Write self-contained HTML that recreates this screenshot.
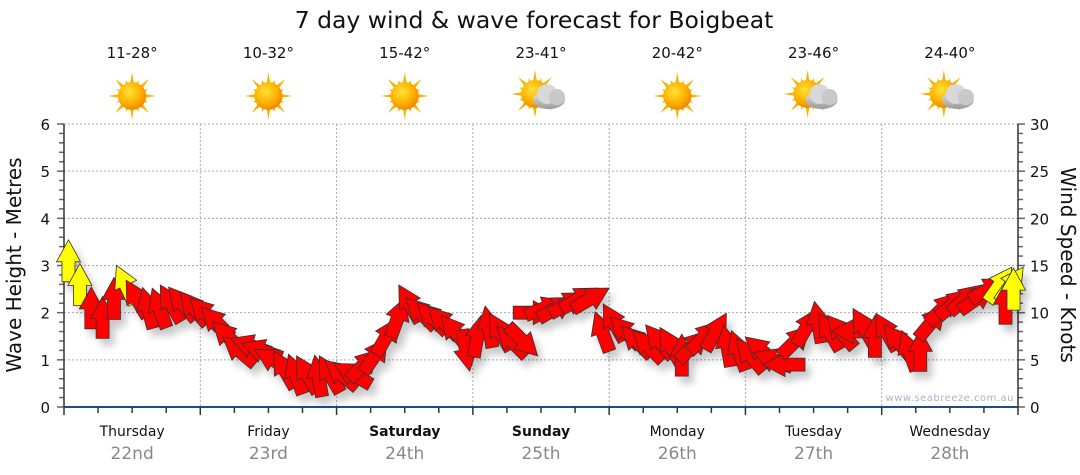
<!DOCTYPE html>
<html><head><meta charset="utf-8"><style>
body{margin:0;background:#fff;font-family:"DejaVu Sans","Liberation Sans",sans-serif}
svg{display:block}
</style></head><body>
<svg id="chart" width="1080" height="475" viewBox="0 0 1080 475" xmlns="http://www.w3.org/2000/svg" font-family="DejaVu Sans, Liberation Sans, sans-serif">
<defs>
<filter id="sh" x="-50%" y="-50%" width="200%" height="200%"><feGaussianBlur in="SourceAlpha" stdDeviation="4"/><feOffset dx="5" dy="7"/><feComponentTransfer><feFuncA type="linear" slope="0.22"/></feComponentTransfer><feMerge><feMergeNode/><feMergeNode in="SourceGraphic"/></feMerge></filter>
<radialGradient id="sunG" cx="40%" cy="35%" r="65%"><stop offset="0" stop-color="#ffe23a"/><stop offset="0.6" stop-color="#ffb300"/><stop offset="1" stop-color="#f08a00"/></radialGradient>
<linearGradient id="cloudG" x1="0" y1="0" x2="0" y2="1"><stop offset="0" stop-color="#e8e8e8"/><stop offset="1" stop-color="#9a9a9a"/></linearGradient>
</defs>
<text x="534" y="28" text-anchor="middle" font-size="23.5" fill="#111">7 day wind &amp; wave forecast for Boigbeat</text>
<g id="grid"></g>
<g id="axes"></g>
<g id="icons"></g>
<g id="arrows" filter="url(#sh)"></g>
<text x="1014" y="401" text-anchor="end" font-size="10" fill="#a8b4c4" letter-spacing="0.5">www.seabreeze.com.au</text>
<text transform="translate(21,265) rotate(-90)" text-anchor="middle" font-size="20" fill="#111">Wave Height - Metres</text>
<text transform="translate(1061,265) rotate(90)" text-anchor="middle" font-size="20" fill="#111">Wind Speed - Knots</text>
</svg>
<script>
const days = ["Thursday","Friday","Saturday","Sunday","Monday","Tuesday","Wednesday"];
const dates = ["22nd","23rd","24th","25th","26th","27th","28th"];
const boldDays = [false,false,true,true,false,false,false];
const temps = ["11-28°","10-32°","15-42°","23-41°","20-42°","23-46°","24-40°"];
const cloudy = [false,false,false,true,false,true,true];
const leftTicks = [0,1,2,3,4,5,6];
const rightTicks = [0,5,10,15,20,25,30];
// arrow time (hours from start), wind knots, direction (deg clockwise from up), colour
const hours = [0.4,1.4,2.4,3.4,4.4,5.4,6.4,7.4,8.4,9.4,10.4,11.4,12.4,13.4,14.4,15.4,16.4,17.4,18.4,19.4,20.4,21.4,22.4,23.4,24.4,25.4,26.4,27.4,28.4,29.4,30.4,31.4,32.4,33.4,34.4,35.4,36.4,37.4,38.4,39.4,40.4,41.4,42.4,43.4,44.4,45.4,46.4,47.4,48.4,49.4,50.4,51.4,52.4,53.4,54.4,55.4,56.4,57.4,58.4,59.4,60.4,61.4,62.4,63.4,64.4,65.4,66.4,67.4,68.4,69.4,70.4,71.4,72.4,73.4,74.4,75.4,76.4,77.4,78.4,79.4,80.4,81.4,82.4,83.4,82.9,83.6].map(h=>h*2);
const speeds = [15.5,13,10.5,9.5,11.5,13,11.5,10.5,10.5,11,11,10.5,10,9,7.5,6,6.5,6,5,4,3.5,3.5,3.3,3.5,3.5,3.5,4.5,5.5,7.5,9.5,11,10,9.5,9,8,6,7.5,8.5,8,7,7,10,10.5,10.5,11,11.5,11.5,8,9,8,7,6.5,7,6.5,5.5,6.5,7.5,8,6.5,6,5.5,6,5,4.5,7,8.5,9,8,8,8,8.5,7.5,8,7,6,6,9,10.5,11,11.5,11.5,12.5,13,13,11,12.5];
const dirs = [0,0,0,0,0,-25,-30,-15,-20,-30,-40,-40,-45,-45,-45,-50,-70,-70,-60,-30,-20,-30,-10,-30,-50,-60,45,35,30,20,-30,-45,-45,-45,-40,170,10,-10,-30,-45,135,90,70,60,60,60,60,-20,-30,-45,-45,-45,-40,-30,0,45,45,30,-10,-20,-40,-50,-70,-90,45,30,-10,-30,-40,-90,-30,0,-30,-40,-20,0,40,45,50,50,55,60,35,35,0,0];
const colours = ["y","y","r","r","r","y","r","r","r","r","r","r","r","r","r","r","r","r","r","r","r","r","r","r","r","r","r","r","r","r","r","r","r","r","r","r","r","r","r","r","r","r","r","r","r","r","r","r","r","r","r","r","r","r","r","r","r","r","r","r","r","r","r","r","r","r","r","r","r","r","r","r","r","r","r","r","r","r","r","r","r","r","y","y","r","y"];

const NS="http://www.w3.org/2000/svg";
const X0=64,X1=1018,Y0=407,Y1=124;
const dayW=(X1-X0)/7;
const xH=h=>X0+h/(7*24)*(X1-X0);
const yM=m=>Y0-m/6*(Y0-Y1);
const yK=k=>Y0-k/30*(Y0-Y1);
function mk(tag,attrs,parent){const e=document.createElementNS(NS,tag);for(const k in attrs)e.setAttribute(k,attrs[k]);parent.appendChild(e);return e;}
const grid=document.getElementById('grid'),axes=document.getElementById('axes'),icons=document.getElementById('icons'),arrows=document.getElementById('arrows');

leftTicks.forEach(v=>{
  if(v>0){const l=mk('line',{x1:X0,x2:X1,y1:yM(v),y2:yM(v),stroke:'#aaa','stroke-dasharray':'2,2'},grid);
  
  }
  const t=mk('text',{x:50,y:yM(v)+6,'text-anchor':'end','font-size':15,fill:'#111'},axes);t.textContent=v;
  
  
});
for(let i=0;i<=30;i++){const m=i*0.2;mk('line',{x1:X0-(i%5?5:7),x2:X0,y1:yM(m),y2:yM(m),stroke:'#666','stroke-width':1.5},axes);}
rightTicks.forEach(v=>{
  const t=mk('text',{x:1030,y:yK(v)+6,'font-size':15,fill:'#111'},axes);t.textContent=v;
  
  
});
for(let k=0;k<=30;k++){mk('line',{x1:X1,x2:X1+(k%5?5:7),y1:yK(k),y2:yK(k),stroke:'#666','stroke-width':1.5},axes);}
for(let d=1;d<7;d++){const l=mk('line',{x1:X0+d*dayW,x2:X0+d*dayW,y1:Y1,y2:Y0,stroke:'#aaa','stroke-dasharray':'2,2'},grid);
  
  }
mk('line',{x1:X0,x2:X0,y1:Y1,y2:Y0,stroke:'#333','stroke-width':1.5},axes);
mk('line',{x1:X1,x2:X1,y1:Y1,y2:Y0,stroke:'#333','stroke-width':1.5},axes);
mk('line',{x1:X0,x2:X1,y1:Y0,y2:Y0,stroke:'#1a4f86','stroke-width':2},axes);
for(let q=0;q<=28;q++){const x=X0+q*dayW/4;mk('line',{x1:x,x2:x,y1:Y0,y2:Y0+(q%4?6:8),stroke:'#333','stroke-width':1.5},axes);}

function sun(g,cx,cy){
  for(let i=0;i<16;i++){const a=i*Math.PI/8,L=i%2?17:24;
    const p=[[cx+Math.cos(a)*L,cy+Math.sin(a)*L],[cx+Math.cos(a+0.2)*11,cy+Math.sin(a+0.2)*11],[cx+Math.cos(a-0.2)*11,cy+Math.sin(a-0.2)*11]];
    mk('polygon',{points:p.map(q=>q.join(',')).join(' '),fill:'#f4b400'},g);}
  mk('circle',{cx,cy,r:14,fill:'url(#sunG)'},g);
}
days.forEach((d,i)=>{
  const cx=X0+(i+0.5)*dayW;
  const t=mk('text',{x:cx,y:58,'text-anchor':'middle','font-size':15,fill:'#111'},icons);t.textContent=temps[i];
  
  
  const g=mk('g',{},icons);
  
  
  if(cloudy[i]){sun(g,cx-6,94);
    mk('ellipse',{cx:cx+8,cy:100,rx:16,ry:9,fill:'url(#cloudG)'},g);
    mk('circle',{cx:cx+6,cy:94,r:10,fill:'#d8d8d8'},g);
    mk('circle',{cx:cx+16,cy:97,r:8,fill:'#c8c8c8'},g);
  } else sun(g,cx,96);
  const dl=mk('text',{x:cx,y:436,'text-anchor':'middle','font-size':14,fill:'#111','font-weight':boldDays[i]?'bold':'normal'},axes);dl.textContent=d;
  
  
  const dt=mk('text',{x:cx,y:459,'text-anchor':'middle','font-size':17,fill:'#888'},axes);dt.textContent=dates[i];
  
  
});

hours.forEach((h,i)=>{
  const cx=xH(h),cy=yK(speeds[i]);
  const p=mk('polygon',{points:'-6.5,21 6.5,21 6.5,1 12,1 0,-21 -12,1 -6.5,1',
    transform:`translate(${cx.toFixed(1)},${cy.toFixed(1)}) rotate(${dirs[i]})`,
    fill:colours[i]==='y'?'#ffff00':'#ff0000',stroke:'#333','stroke-width':0.8},arrows);
  
  
});
</script>
</body></html>
